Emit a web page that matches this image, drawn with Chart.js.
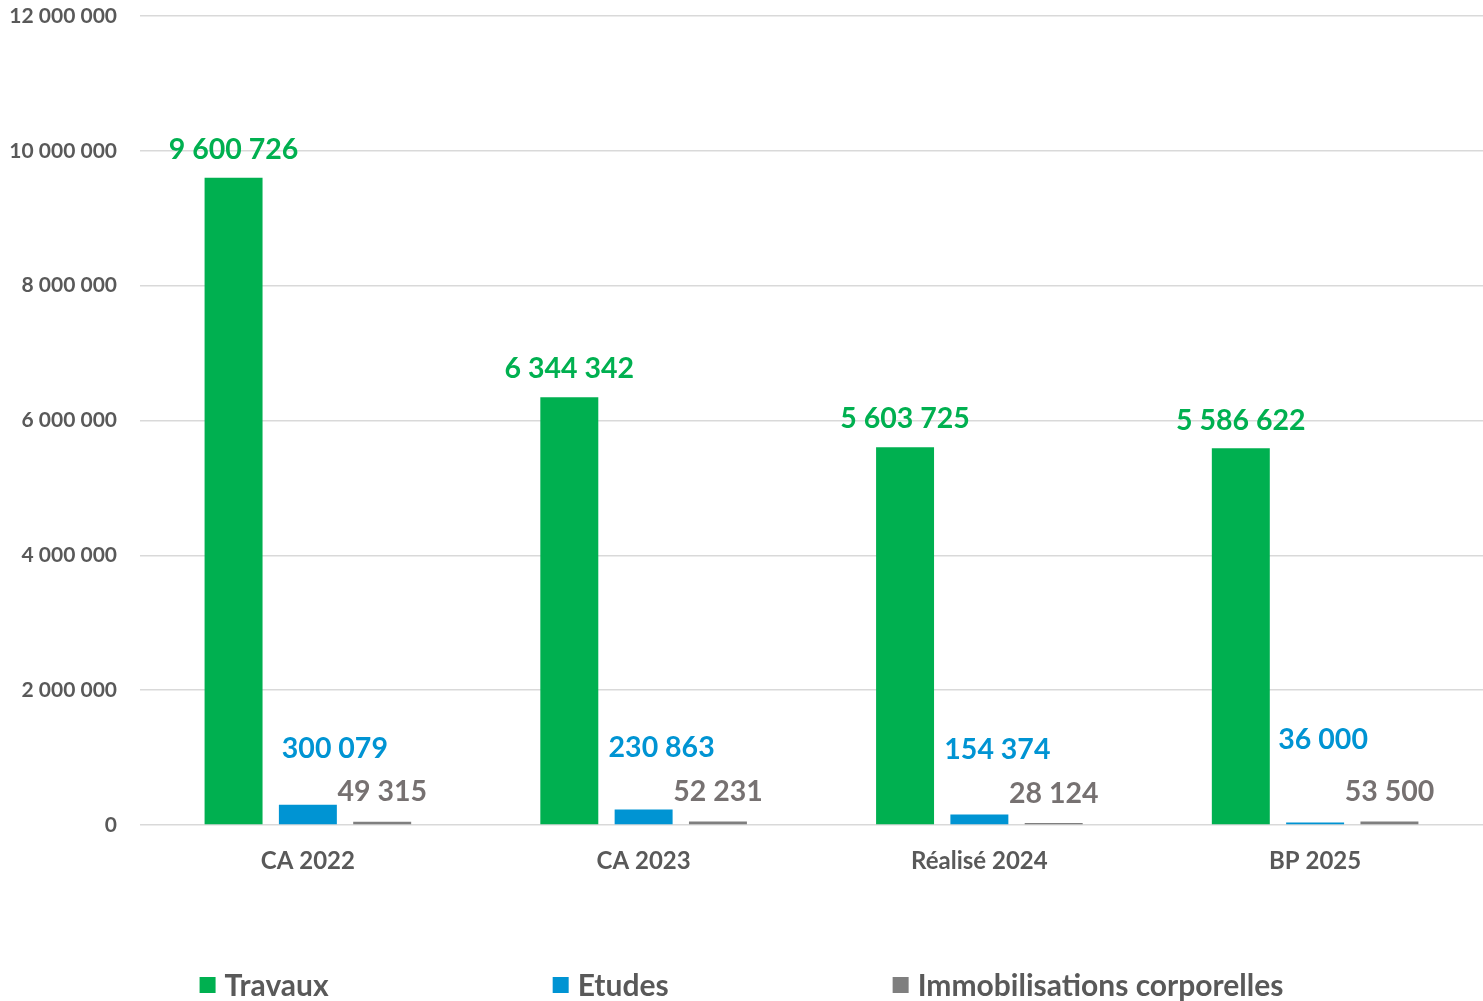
<!DOCTYPE html>
<html lang="fr">
<head>
<meta charset="utf-8">
<title>Investissements</title>
<script src="https://cdn.jsdelivr.net/npm/chart.js@4.4.1/dist/chart.umd.min.js"></script>
<style>
    html, body { margin: 0; padding: 0; background: #fff; }
    canvas { display: block; }
</style>
</head>
<body>
<canvas id="chart" width="1483" height="1001"></canvas>
<script>
// Data
const categories = ['CA 2022', 'CA 2023', 'Réalisé 2024', 'BP 2025'];
const travaux = [9600726, 6344342, 5603725, 5586622];
const etudes = [300079, 230863, 154374, 36000];
const immobilisations = [49315, 52231, 28124, 53500];
const seriesNames = ['Travaux', 'Etudes', 'Immobilisations corporelles'];
const yTicks = [0, 2000000, 4000000, 6000000, 8000000, 10000000, 12000000];

const COLORS = ['#00B050', '#0094D3', '#7F7F7F'];
const LABEL_COLORS = ['#00B050', '#0094D3', '#767171'];
const TEXT = '#595959';
const FONT = 'Lato, "Open Sans", sans-serif';

function fmt(v) {
    return String(v).replace(/\B(?=(\d{3})+(?!\d))/g, ' ');
}

// value labels above bars (nudges mimic the hand-placed labels of the original)
const valueLabels = {
    id: 'valueLabels',
    afterDatasetsDraw(chart, args, opts) {
        const ctx = chart.ctx;
        ctx.save();
        ctx.textAlign = 'center';
        ctx.textBaseline = 'middle';
        ctx.font = 'bold 28.5px ' + FONT;
        chart.data.datasets.forEach((ds, di) => {
            const meta = chart.getDatasetMeta(di);
            ctx.fillStyle = LABEL_COLORS[di];
            meta.data.forEach((bar, i) => {
                const dx = opts.dx[di][i];
                const dy = opts.dy[di][i];
                ctx.fillText(fmt(ds.data[i]), bar.x + dx, bar.y + dy);
            });
        });
        ctx.restore();
    }
};

// bottom legend with wide spacing
const bottomLegend = {
    id: 'bottomLegend',
    afterDraw(chart) {
        const ctx = chart.ctx;
        ctx.save();
        ctx.font = 'bold 30px ' + FONT;
        ctx.textBaseline = 'middle';
        const box = 16, gapText = 9, gapItem = 224;
        const widths = seriesNames.map(n => box + gapText + ctx.measureText(n).width);
        const total = widths.reduce((a, b) => a + b, 0) + gapItem * (widths.length - 1);
        let x = (chart.width - total) / 2;
        const y = 985;
        seriesNames.forEach((n, i) => {
            ctx.fillStyle = COLORS[i];
            ctx.fillRect(x, y - box / 2, box, box);
            ctx.fillStyle = TEXT;
            ctx.fillText(n, x + box + gapText, y + 1);
            x += widths[i] + gapItem;
        });
        ctx.restore();
    }
};

const dataset = (label, data, i) => ({
    label: label,
    data: data,
    backgroundColor: COLORS[i],
    borderWidth: 0,
    categoryPercentage: 0.664,
    barPercentage: 0.78
});

new Chart(document.getElementById('chart'), {
    type: 'bar',
    data: {
        labels: categories,
        datasets: [
            dataset(seriesNames[0], travaux, 0),
            dataset(seriesNames[1], etudes, 1),
            dataset(seriesNames[2], immobilisations, 2)
        ]
    },
    options: {
        responsive: false,
        devicePixelRatio: 1,
        animation: false,
        layout: { padding: { top: 16, right: -3, bottom: 0, left: 0 } },
        scales: {
            x: {
                grid: { display: false },
                border: { display: false },
                ticks: {
                    color: TEXT,
                    padding: 14,
                    font: { family: FONT, size: 24, weight: 'bold' }
                },
                afterFit: s => {
                    s.height = 176;
                    s.paddingLeft = 0;
                    s.paddingRight = 0;
                }
            },
            y: {
                min: 0,
                max: 12000000,
                afterBuildTicks: s => { s.ticks = yTicks.map(v => ({ value: v })); },
                grid: { color: '#D9D9D9', lineWidth: 1.5, drawTicks: false },
                border: { display: false },
                ticks: {
                    color: TEXT,
                    padding: 23,
                    font: { family: FONT, size: 21, weight: 'bold' },
                    callback: v => fmt(v)
                },
                afterFit: s => {
                    s.width = 140;
                    s.paddingTop = 0;
                    s.paddingBottom = 0;
                }
            }
        },
        plugins: {
            legend: { display: false },
            tooltip: { enabled: false },
            valueLabels: {
                dx: [[0, 0, 0, 0], [27, 18, 18, 8], [0, 0, 0, 0]],
                dy: [[-28, -28, -28, -28], [-56, -62, -65, -83], [-30, -30, -29, -30]]
            }
        }
    },
    plugins: [valueLabels, bottomLegend]
});
</script>
</body>
</html>
